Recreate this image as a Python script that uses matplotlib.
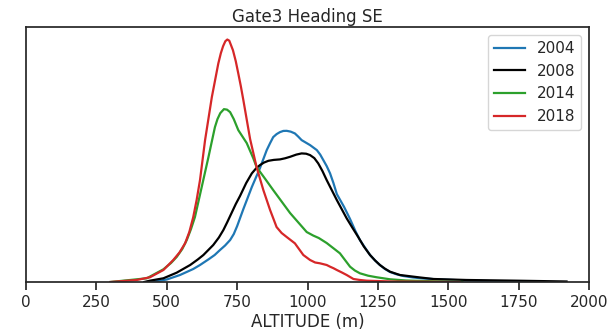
import numpy as np
import matplotlib
matplotlib.use("Agg")
import matplotlib.pyplot as plt

# Altitude (m) and KDE density (x1e-5)
alt_2004 = [430, 470, 500, 547, 594, 618, 650, 670, 689, 707, 725, 738, 750, 772, 802, 831, 855,
            867, 878, 890, 902, 914, 926, 940, 955, 967, 979, 994, 1009, 1033, 1045, 1056, 1068,
            1080, 1092, 1104, 1130, 1151, 1170, 1186, 1205, 1222, 1240, 1257, 1275, 1293, 1315,
            1340, 1375, 1411, 1471, 1565, 1700, 1800]
dens_2004 = [0, 1, 2.5, 7, 13, 17, 23, 27, 32, 36.5, 42, 48, 56, 73, 95, 114, 132,
             139, 145, 148, 150, 151.2, 151.3, 150.5, 148.7, 145.5, 142, 139.5, 137, 132, 127.5, 122, 116,
             108.7, 99, 88, 75, 63, 51, 42, 34, 27, 21.5, 17, 13, 10, 7.8,
             6, 4.5, 3.5, 2.5, 1.5, 0.5, 0]

alt_2008 = [420, 440, 488, 535, 583, 610, 630, 665, 685, 701, 715, 730, 745, 760, 782, 802, 818,
            831, 845, 861, 880, 902, 920, 938, 960, 979, 995, 1009, 1024, 1038, 1053, 1068, 1086,
            1104, 1139, 1160, 1180, 1200, 1222, 1240, 1257, 1275, 1293, 1328, 1400, 1447, 1565,
            1743, 1920]
dens_2008 = [0, 1.3, 3.7, 9.3, 17, 22.5, 27, 37, 44.5, 52, 60, 69, 78, 86, 99, 108.7, 114,
             117, 119.5, 121.3, 122.2, 122.7, 123.8, 125.3, 127.5, 128.7, 128.4, 127, 124, 118.7, 111, 102, 92,
             82, 63.7, 54, 45, 35.5, 27, 21.5, 17, 13.3, 10.3, 7, 4.5, 3, 2,
             1.3, 0.5]

alt_2014 = [300, 429, 488, 515, 535, 555, 571, 586, 600, 612, 624, 648, 661, 671, 680, 690, 703,
            714, 725, 738, 754, 784, 807, 819, 850, 878, 938, 997, 1020, 1040, 1068, 1100, 1115,
            1133, 1151, 1168, 1186, 1215, 1246, 1293, 1350, 1450, 1550]
dens_2014 = [0, 3.7, 12.7, 19, 25, 33, 42, 53, 65, 80, 95, 125, 142, 155, 163, 169, 173,
             172.5, 170, 163, 152, 139, 124, 115, 103, 92, 69, 50, 46.5, 44, 39, 32, 28.7,
             22, 15.3, 11.5, 8.7, 6.3, 4.7, 2.7, 1.5, 0.7, 0]

alt_2018 = [300, 393, 440, 488, 523, 545, 565, 580, 594, 606, 618, 636, 660, 683, 692, 700, 708,
            715, 722, 735, 745, 754, 763, 772, 796, 819, 843, 867, 890, 908, 926, 955, 985, 1009,
            1027, 1044, 1068, 1080, 1092, 1104, 1122, 1139, 1163, 1186, 1210, 1300, 1400, 1540]
dens_2018 = [0, 2, 4.7, 12, 22, 29.5, 38.7, 50, 65, 82, 102, 142, 185, 218.7, 229, 236, 241,
             242.7, 241.5, 232, 221, 208.7, 196, 182, 143, 115, 92, 72, 55, 49, 45, 38.7, 27, 22,
             19.5, 18.7, 17, 15.3, 13.8, 12, 9.5, 7, 3, 2, 1.3, 0.5, 0.3, 0]

years = ["2004", "2008", "2014", "2018"]
colors = ["tab:blue", "black", "tab:green", "tab:red"]
series = [(alt_2004, dens_2004), (alt_2008, dens_2008),
          (alt_2014, dens_2014), (alt_2018, dens_2018)]

fig = plt.figure(figsize=(6.11, 3.30), dpi=100)
ax = fig.add_axes([0.0426, 0.1455, 0.9215, 0.7715])

for (x, y), yr, c in zip(series, years, colors):
    ax.plot(x, np.array(y) * 1e-5, color=c, lw=1.6, label=yr,
            solid_joinstyle="round")

ax.set_xlim(0, 2000)
ax.set_ylim(0, max(dens_2018) * 1e-5 * 1.05)
ax.set_xticks(np.arange(0, 2001, 250))
ax.set_yticks([])
ax.tick_params(axis="x", labelsize=11, length=6, width=1.25, direction="out", colors="#262626")
for s in ax.spines.values():
    s.set_linewidth(1.25)
    s.set_color("#262626")

ax.set_xlabel("ALTITUDE (m)", fontsize=12, color="#262626", labelpad=2)
ax.set_title("Gate3 Heading SE", fontsize=12, color="#262626", pad=4)
leg = ax.legend(loc="upper right", fontsize=11, handlelength=2.0)
for t in leg.get_texts():
    t.set_color("#262626")

fig.savefig("out.png", dpi=100)
